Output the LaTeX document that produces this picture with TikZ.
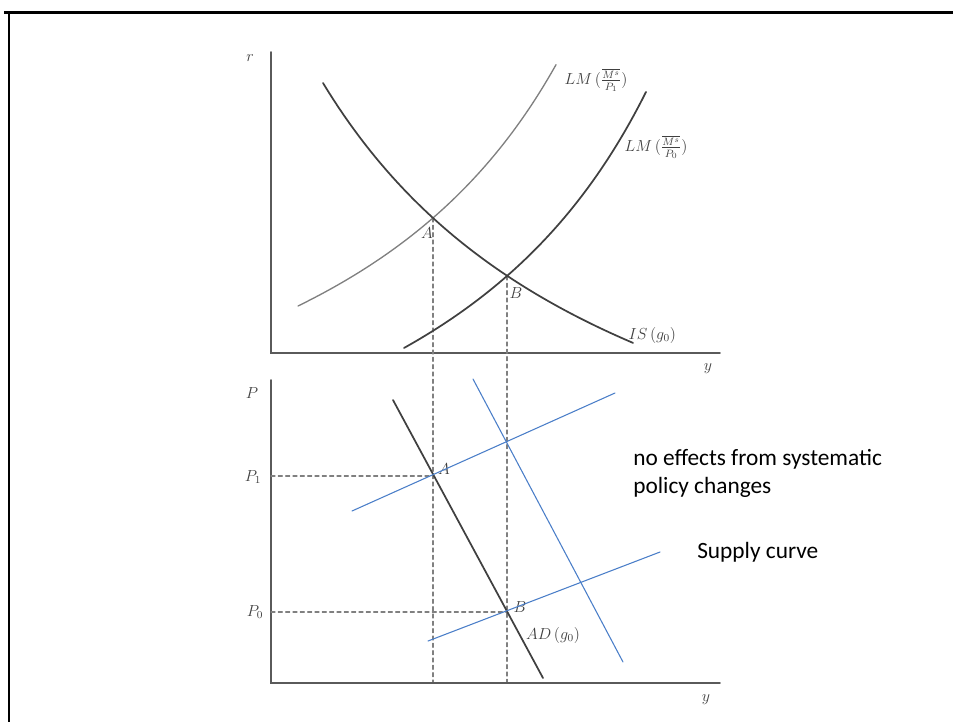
\documentclass[tikz,border=0pt]{standalone}
\usepackage{amsmath,amssymb}
\usepackage{fontspec}
\newfontfamily\calibri{Carlito}
\usepackage{tikz}
\usepackage{xcolor}
\definecolor{axisgray}{HTML}{5A5A5A}
\definecolor{supplyblue}{HTML}{4A7EC8}

\begin{document}
\begin{tikzpicture}[x=0.75pt,y=-0.75pt,line cap=round,
  axis/.style={axisgray,line width=1.4pt},
  curve/.style={black!75,line width=1.3pt},
  guide/.style={gray,line width=0.9pt,dash pattern=on 3pt off 2.5pt},
  supply/.style={supplyblue,line width=0.8pt},
  lbl/.style={font=\fontsize{11.5}{13}\selectfont,text=black!75,inner sep=1pt}]
\useasboundingbox (0,0) rectangle (953,722);
% frame
\draw[line width=2.2pt,line cap=butt] (4,12.5) -- (953,12.5);
\draw[line width=2.2pt,line cap=butt] (9,11) -- (9,722);
% points
\coordinate (Aup) at (433,218);
\coordinate (Bup) at (507,276);
\coordinate (Alo) at (433,476);
\coordinate (Blo) at (507,612);
% upper panel: IS-LM
\draw[axis] (271,52) -- (271,353) -- (720,353);
\node[lbl] (r) at (250,58) {$r$};
\node[lbl] (yup) at (708,369) {$y$};
\draw[guide] (Aup) -- (433,683);
\draw[guide] (Bup) -- (507,683);
\draw[black!50,line width=1pt] plot[domain=298:556,samples=60] (\x,{571.4-1438/((839.8-\x)/100)});
\draw[curve] plot[domain=404:646,samples=60] (\x,{634.4-1468.5/((916.7-\x)/100)});
\draw[curve] plot[domain=323:633,samples=60] (\x,{612.4-1702/((\x-1.5)/100)});
\node[lbl,anchor=west] (lm1) at (563,80) {$LM\,(\frac{\overline{M^s}}{P_1})$};
\node[lbl,anchor=west] (lm0) at (623,147) {$LM\,(\frac{\overline{M^s}}{P_0})$};
\node[lbl,anchor=west] (is) at (627,335) {$IS\,(g_0)$};
\node[lbl] at (427,233) {$A$};
\node[lbl] at (516,293) {$B$};
% lower panel: AD-AS
\draw[axis] (271,380) -- (271,683) -- (720,683);
\node[lbl] (P) at (252,393) {$P$};
\node[lbl] (ylo) at (706,700) {$y$};
\node[lbl] at (253,477) {$P_1$};
\node[lbl] at (255,612) {$P_0$};
\draw[guide] (271,476) -- (Alo);
\draw[guide] (271,612) -- (Blo);
\draw[curve] (393,400) -- (543,678);
\node[lbl] at (444,469) {$A$};
\node[lbl] at (520,607) {$B$};
\node[lbl] at (553,635) {$AD\,(g_0)$};
% shifted curves
\draw[supply] (352,511) -- (615,393);
\draw[supply] (428,641) -- (660,552);
\draw[supply] (473,379) -- (623,662);
\node[font=\calibri\fontsize{17.5}{21}\selectfont,align=left,anchor=north west,inner sep=0pt] at (633,449) {no effects from systematic\\policy changes};
\node[font=\calibri\fontsize{17.5}{21}\selectfont,anchor=west,inner sep=0pt] at (697,552) {Supply curve};
\end{tikzpicture}
\end{document}
